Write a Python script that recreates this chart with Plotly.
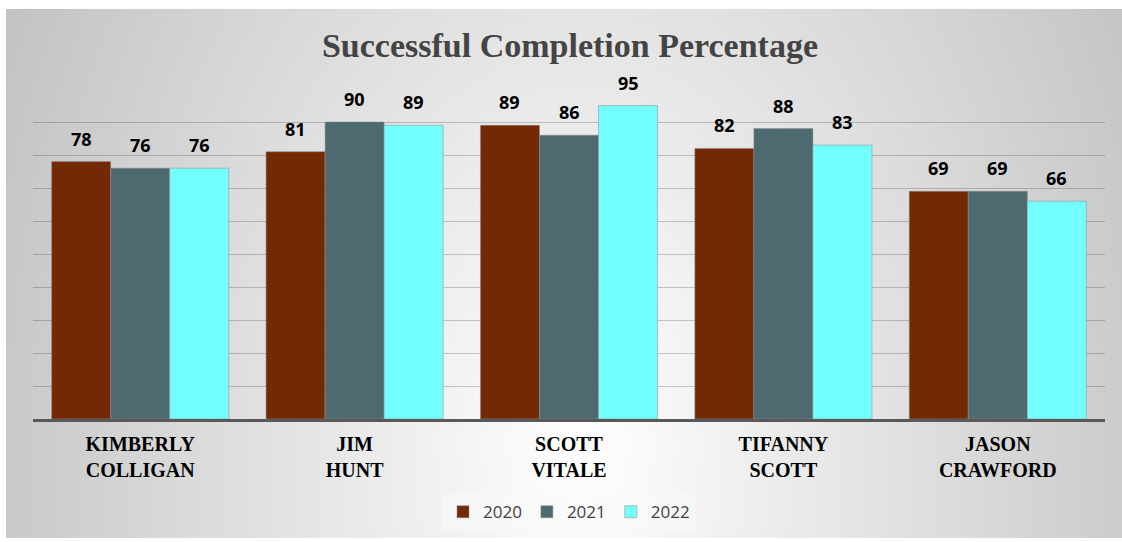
import base64
import plotly.graph_objects as go

categories = ["KIMBERLY<br>COLLIGAN", "JIM<br>HUNT", "SCOTT<br>VITALE", "TIFANNY<br>SCOTT", "JASON<br>CRAWFORD"]
years = ["2020", "2021", "2022"]
values_2020 = [78, 81, 89, 82, 69]
values_2021 = [76, 90, 86, 88, 69]
values_2022 = [76, 89, 95, 83, 66]
series = [values_2020, values_2021, values_2022]
colors = ["#732903", "#4D6A70", "#73FFFF"]

W, H = 1122, 542
ML, MR, MT, MB = 33, 17, 89, 120
PW, PH = W - ML - MR, H - MT - MB
BARGAP = 0.174

fig = go.Figure()
for name, vals, col in zip(years, series, colors):
    fig.add_trace(go.Bar(
        name=name, x=list(range(len(categories))), y=vals,
        marker=dict(color=col, line=dict(color="rgba(140,140,140,0.7)", width=0.75)),
    ))

# value labels
bw = (1 - BARGAP) / len(series)
annotations = []
for k, vals in enumerate(series):
    off = (k - (len(series) - 1) / 2) * bw
    for i, v in enumerate(vals):
        annotations.append(dict(
            x=i + off, y=v, xref="x", yref="y", text=f"<b>{v}</b>", showarrow=False,
            yanchor="bottom", yshift=9,
            font=dict(family="Open Sans, sans-serif", size=18, color="#000000"),
        ))

# background gradient
bx0, by0, bx1, by1 = 6, 8, 1124, 542
bw_px, bh_px = bx1 - bx0, by1 - by0
cx, cy, rx, ry = 580 - bx0, 450 - by0, 720, 1100
svg = f'''<svg xmlns="http://www.w3.org/2000/svg" width="{bw_px}" height="{bh_px}" viewBox="0 0 {bw_px} {bh_px}" preserveAspectRatio="none">
<defs><radialGradient id="g" gradientUnits="userSpaceOnUse" cx="{cx}" cy="{cy}" r="{rx}"
gradientTransform="translate({cx},{cy}) scale(1,{ry / rx:.4f}) translate({-cx},{-cy})">
<stop offset="0" stop-color="#ffffff"/><stop offset="1" stop-color="#bbbbbb"/></radialGradient></defs>
<rect x="0" y="0" width="{bw_px}" height="{bh_px}" fill="url(#g)"/></svg>'''
src = "data:image/svg+xml;base64," + base64.b64encode(svg.encode()).decode()

fig.update_layout(
    width=W, height=H,
    margin=dict(l=ML, r=MR, t=MT, b=MB),
    paper_bgcolor="#ffffff", plot_bgcolor="rgba(0,0,0,0)",
    barmode="group", bargap=BARGAP, bargroupgap=0,
    title=dict(text="<b>Successful Completion Percentage</b>", x=0.508, xanchor="center",
               y=1 - 45 / H, yanchor="middle",
               font=dict(family="Liberation Serif, serif", size=34, color="#444444")),
    images=[dict(source=src, xref="paper", yref="paper",
                 x=(bx0 - ML) / PW, y=(H - MB - by0) / PH,
                 sizex=bw_px / PW, sizey=bh_px / PH,
                 xanchor="left", yanchor="top", sizing="stretch", layer="below")],
    annotations=annotations,
    showlegend=True,
    legend=dict(orientation="h", x=0.5, xanchor="center", y=(H - MB - 516) / PH, yanchor="middle",
                bgcolor="rgba(250,250,250,0.55)",
                font=dict(family="Open Sans, sans-serif", size=17, color="#404040"),
                itemwidth=30),
)
fig.update_xaxes(
    tickmode="array", tickvals=list(range(len(categories))),
    ticktext=[f"<b>{c}</b>" for c in categories],
    range=[-0.5, len(categories) - 0.5],
    showline=True, linecolor="#595959", linewidth=3,
    showgrid=False, ticks="outside", ticklen=5, tickcolor="rgba(0,0,0,0)",
    tickfont=dict(family="Liberation Serif, serif", size=20, color="#000000"),
)
fig.update_yaxes(
    range=[0, 100], dtick=10, showticklabels=False, showgrid=True,
    gridcolor="rgba(0,0,0,0.2)", gridwidth=1, zeroline=False, showline=False,
)

fig.write_html("out.html", config={"displayModeBar": False},
               post_script="document.body.style.margin='0';")
